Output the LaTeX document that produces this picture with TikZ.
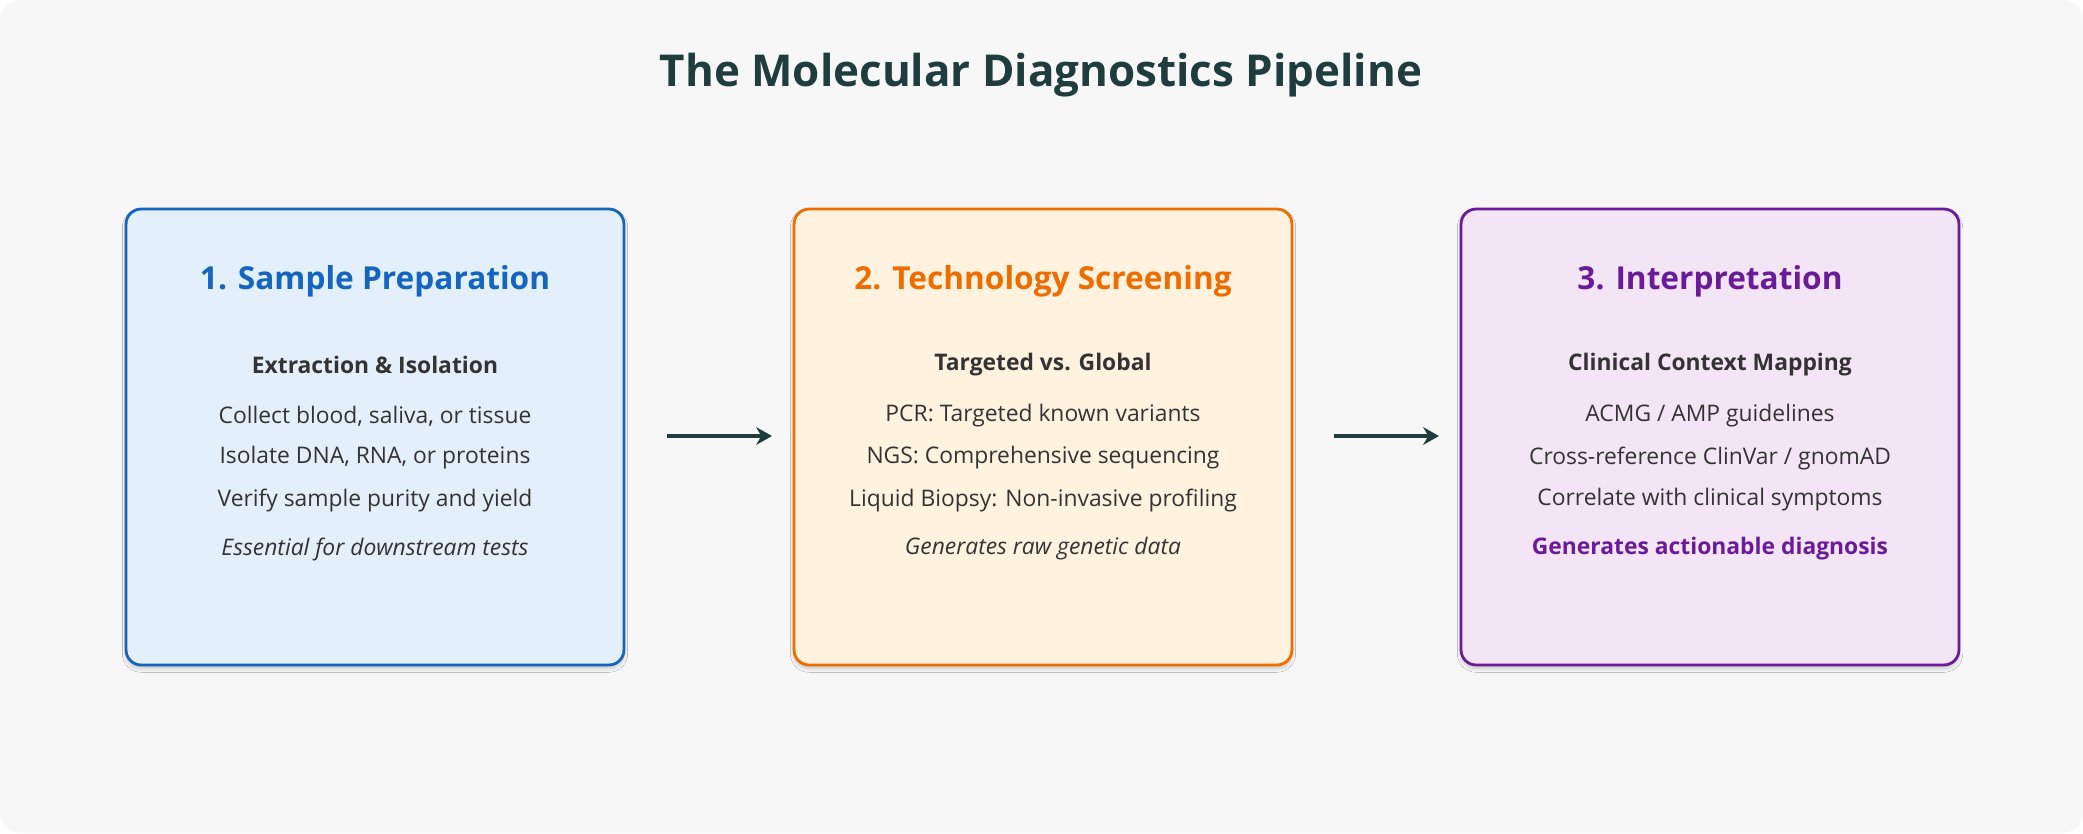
\documentclass[tikz,border=0pt]{standalone}
\usepackage{fontspec}
\setmainfont{Open Sans}
\usetikzlibrary{arrows.meta,shadows.blur}
\definecolor{bgc}{HTML}{F7F7F7}
\definecolor{ttl}{HTML}{1F3D3D}
\definecolor{txt}{HTML}{333333}
\definecolor{bA}{HTML}{1565C0}\definecolor{fA}{HTML}{E3F0FB}
\definecolor{bB}{HTML}{EF6C00}\definecolor{fB}{HTML}{FFF3E0}
\definecolor{bC}{HTML}{6A1B9A}\definecolor{fC}{HTML}{F3E5F5}
\begin{document}
\begin{tikzpicture}[x=0.02cm,y=-0.02cm,
  box/.style={draw=#1,line width=1.6pt,rounded corners=0.3cm,minimum width=9.96cm,minimum height=9.12cm,blur shadow={shadow blur steps=5,shadow xshift=0pt,shadow yshift=-2pt,shadow opacity=20}},
  head/.style={font=\fontsize{18}{22}\selectfont\bfseries},
  sub/.style={font=\fontsize{13}{16}\selectfont\bfseries,text=txt},
  line/.style={font=\fontsize{13}{16}\selectfont,text=txt},
  note/.style={font=\fontsize{13}{16}\selectfont\itshape,text=txt},
  arr/.style={-{Stealth[length=9pt,width=10pt]},line width=2.2pt,draw=ttl}]
\useasboundingbox (0,0) rectangle (2083,833);
\fill[bgc,rounded corners=0.4cm] (0,0) rectangle (2083,833);
\node[font=\fontsize{25}{30}\selectfont\bfseries,text=ttl] (t) at (1041,75) {The Molecular Diagnostics Pipeline};
% boxes
\node[box=bA,fill=fA] (b1) at (375,437) {};
\node[box=bB,fill=fB] (b2) at (1043,437) {};
\node[box=bC,fill=fC] (b3) at (1710,437) {};
\foreach \n/\x/\c in {1/375/bA,2/1043/bB,3/1710/bC}{}
\node[head,text=bA] (h1) at (375,281) {1. Sample Preparation};
\node[sub] (s1) at (375,365) {Extraction \& Isolation};
\node[line] (l11) at (375,416) {Collect blood, saliva, or tissue};
\node[line] (l12) at (375,458) {Isolate DNA, RNA, or proteins};
\node[line] (l13) at (375,500) {Verify sample purity and yield};
\node[note] (n1) at (375,549) {Essential for downstream tests};
\node[head,text=bB] (h2) at (1043,281) {2. Technology Screening};
\node[sub] (s2) at (1043,365) {Targeted vs. Global};
\node[line] (l21) at (1043,416) {PCR: Targeted known variants};
\node[line] (l22) at (1043,458) {NGS: Comprehensive sequencing};
\node[line] (l23) at (1043,500) {Liquid Biopsy: Non-invasive profiling};
\node[note] (n2) at (1043,549) {Generates raw genetic data};
\node[head,text=bC] (h3) at (1710,281) {3. Interpretation};
\node[sub] (s3) at (1710,365) {Clinical Context Mapping};
\node[line] (l31) at (1710,416) {ACMG / AMP guidelines};
\node[line] (l32) at (1710,458) {Cross-reference ClinVar / gnomAD};
\node[line] (l33) at (1710,500) {Correlate with clinical symptoms};
\node[sub,text=bC] (n3) at (1710,549) {Generates actionable diagnosis};
\coordinate (a1s) at (667,436);\coordinate (a1e) at (772,436);
\coordinate (a2s) at (1334,436);\coordinate (a2e) at (1439,436);
\draw[arr] (a1s) -- (a1e);
\draw[arr] (a2s) -- (a2e);
\end{tikzpicture}
\end{document}
